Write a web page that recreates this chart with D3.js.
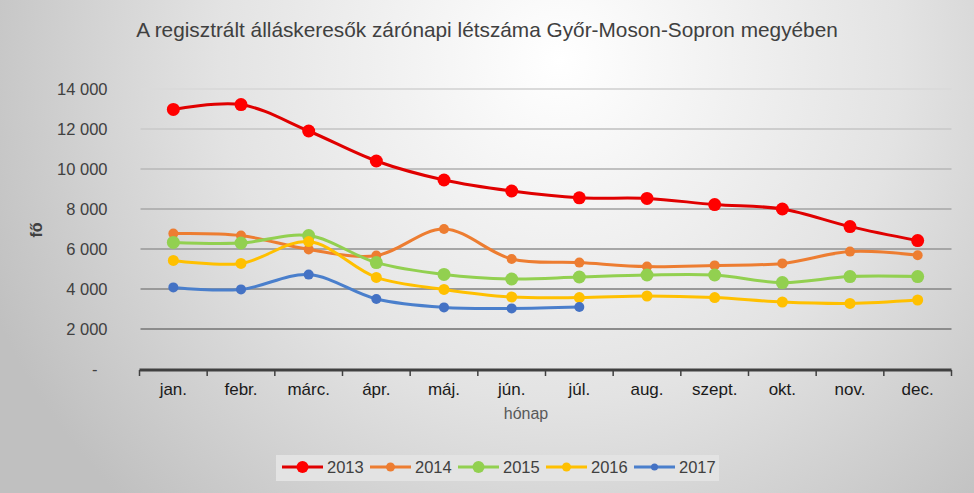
<!DOCTYPE html>
<html>
<head>
<meta charset="utf-8">
<script src="https://cdn.jsdelivr.net/npm/d3@7"></script>
<style>
  html, body { margin: 0; padding: 0; }
  body { width: 974px; height: 493px; overflow: hidden; }
  text { font-family: "Liberation Sans", Arial, sans-serif; }
</style>
</head>
<body>
<script>
// data
const months = ["jan.", "febr.", "márc.", "ápr.", "máj.", "jún.", "júl.", "aug.", "szept.", "okt.", "nov.", "dec."];
const v2013 = [12980, 13220, 11900, 10400, 9450, 8900, 8560, 8530, 8220, 8000, 7120, 6420];
const v2014 = [6770, 6670, 5980, 5670, 7000, 5500, 5320, 5120, 5180, 5280, 5870, 5690];
const v2015 = [6330, 6300, 6670, 5320, 4730, 4500, 4600, 4700, 4700, 4320, 4620, 4620];
const v2016 = [5430, 5280, 6370, 4580, 3980, 3600, 3570, 3650, 3570, 3350, 3280, 3450];
const v2017 = [4080, 3980, 4720, 3500, 3080, 3030, 3100];
const yTicks = [0, 2000, 4000, 6000, 8000, 10000, 12000, 14000];

const series = [
  { name: "2013", values: v2013, line: "#e00000", dot: "#ff0000", r: 6.5, lr: 6 },
  { name: "2014", values: v2014, line: "#ed7d31", dot: "#ed7d31", r: 5, lr: 4.5 },
  { name: "2015", values: v2015, line: "#92d050", dot: "#92d050", r: 6.5, lr: 6 },
  { name: "2016", values: v2016, line: "#ffc000", dot: "#ffc000", r: 5.5, lr: 4.5 },
  { name: "2017", values: v2017, line: "#4a7fcc", dot: "#4472c4", r: 5, lr: 3.5 }
];

const w = 974, h = 493;
const mLeft = 139.5, mRight = 951.5, mTop = 89, mBottom = 369;

const svg = d3.select("body").append("svg")
  .attr("width", w).attr("height", h);

const defs = svg.append("defs");
const bg = defs.append("radialGradient").attr("id", "bg")
  .attr("gradientUnits", "userSpaceOnUse")
  .attr("cx", 560).attr("cy", 60).attr("r", 620);
bg.append("stop").attr("offset", "0%").attr("stop-color", "#ffffff");
bg.append("stop").attr("offset", "55%").attr("stop-color", "#e3e3e3");
bg.append("stop").attr("offset", "100%").attr("stop-color", "#c0c0c0");

svg.append("rect").attr("width", w).attr("height", h).attr("fill", "url(#bg)");

// title
svg.append("text")
  .attr("x", 487).attr("y", 37)
  .attr("text-anchor", "middle")
  .attr("font-size", 20.8)
  .attr("fill", "#404040")
  .text("A regisztrált álláskeresők zárónapi létszáma Győr-Moson-Sopron megyében");

const x = d3.scaleBand().domain(months).range([mLeft, mRight]);
const y = d3.scaleLinear().domain([0, 14000]).range([mBottom, mTop]);

const gridColor = d3.scaleLinear().domain([0, 14000]).range(["#7f7f7f", "#dadada"]);

// gridlines
svg.append("g").selectAll("line")
  .data(yTicks.filter(d => d > 0))
  .enter().append("line")
  .attr("x1", mLeft + 1).attr("x2", mRight)
  .attr("y1", d => y(d)).attr("y2", d => y(d))
  .attr("stroke", d => gridColor(d))
  .attr("stroke-width", 2);

// y axis labels
const yAxis = d3.axisLeft(y).tickValues(yTicks)
  .tickFormat(d => d === 0 ? "-" : d3.format(",")(d).replace(/,/g, " "))
  .tickSize(0).tickPadding(32);
const gy = svg.append("g").attr("transform", "translate(" + mLeft + ",0)").call(yAxis);
gy.select(".domain").remove();
gy.selectAll("text")
  .attr("font-size", 16.5)
  .attr("fill", "#404040")
  .attr("font-family", "Liberation Sans, Arial, sans-serif");
gy.selectAll(".tick").filter(d => d === 0).select("text").attr("dx", -10);

// x axis
const xAxis = d3.axisBottom(x).tickSize(0).tickPadding(13);
const gx = svg.append("g").attr("transform", "translate(0," + (mBottom + 1) + ")").call(xAxis);
gx.select(".domain").remove();
gx.selectAll("text")
  .attr("font-size", 17)
  .attr("fill", "#1a1a1a")
  .attr("font-family", "Liberation Sans, Arial, sans-serif");

svg.append("line")
  .attr("x1", mLeft).attr("x2", mRight)
  .attr("y1", mBottom + 1).attr("y2", mBottom + 1)
  .attr("stroke", "#404040").attr("stroke-width", 3);
svg.append("g").selectAll("line")
  .data(d3.range(months.length + 1))
  .enter().append("line")
  .attr("x1", i => mLeft + i * x.step()).attr("x2", i => mLeft + i * x.step())
  .attr("y1", mBottom + 1).attr("y2", mBottom + 7)
  .attr("stroke", "#404040").attr("stroke-width", 1.5);

// axis titles
svg.append("text")
  .attr("x", 526).attr("y", 419)
  .attr("text-anchor", "middle")
  .attr("font-size", 16)
  .attr("fill", "#595959")
  .text("hónap");

svg.append("text")
  .attr("transform", "translate(42,230) rotate(-90)")
  .attr("text-anchor", "middle")
  .attr("font-size", 16)
  .attr("font-weight", "bold")
  .attr("fill", "#404040")
  .text("fő");

// lines
const line = d3.line()
  .x((d, i) => x(months[i]) + x.bandwidth() / 2)
  .y(d => y(d))
  .curve(d3.curveCatmullRom.alpha(0.5));

const sg = svg.append("g").selectAll("g")
  .data(series).enter().append("g");

sg.append("path")
  .attr("d", d => line(d.values))
  .attr("fill", "none")
  .attr("stroke", d => d.line)
  .attr("stroke-width", 3);

sg.each(function(s) {
  d3.select(this).selectAll("circle")
    .data(s.values).enter().append("circle")
    .attr("cx", (d, i) => x(months[i]) + x.bandwidth() / 2)
    .attr("cy", d => y(d))
    .attr("r", s.r)
    .attr("fill", s.dot);
});

// legend
const legend = svg.append("g");
legend.append("rect")
  .attr("x", 276).attr("y", 455).attr("width", 443).attr("height", 26)
  .attr("fill", "#e3e3e3");

const lx = d3.scaleLinear().domain([0, 1]).range([282, 370]);
const li = legend.selectAll("g").data(series).enter().append("g")
  .attr("transform", (d, i) => "translate(" + lx(i) + ",467)");
li.append("line")
  .attr("x1", 0).attr("x2", 41)
  .attr("stroke", d => d.line).attr("stroke-width", 3);
li.append("circle")
  .attr("cx", 20.5).attr("r", d => d.lr)
  .attr("fill", d => d.dot);
li.append("text")
  .attr("x", 45).attr("y", 6)
  .attr("font-size", 16.5)
  .attr("fill", "#404040")
  .text(d => d.name);
</script>
</body>
</html>
